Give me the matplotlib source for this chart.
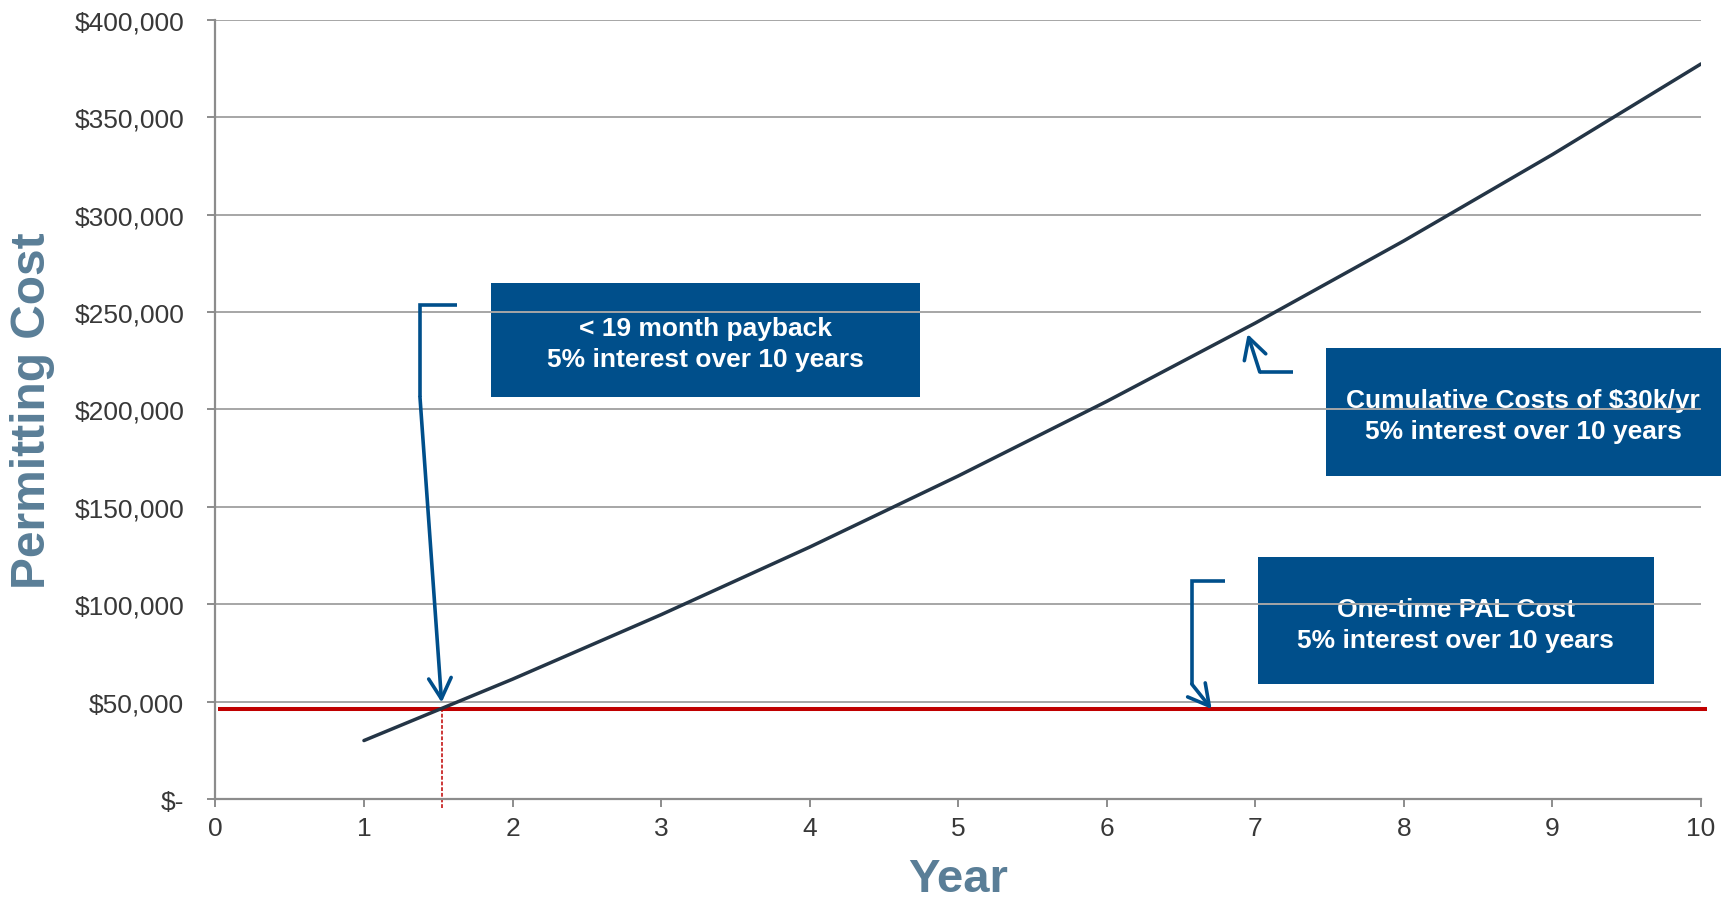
import matplotlib.pyplot as plt
from matplotlib.patches import Rectangle
from matplotlib.ticker import FuncFormatter

plt.rcParams['font.family'] = ['Liberation Sans', 'DejaVu Sans']

# cumulative cost of $30k/yr at 5% interest, one-time PAL cost
years = [1, 2, 3, 4, 5, 6, 7, 8, 9, 10]
cumulative_cost = [30000, 61500, 94600, 129300, 165800, 204100, 244300, 286500, 330800, 377300]
pal_cost = 46000
payback_year = 1.523

x_ticks = [0, 1, 2, 3, 4, 5, 6, 7, 8, 9, 10]
y_ticks = [0, 50000, 100000, 150000, 200000, 250000, 300000, 350000, 400000]

box_texts = [
    "< 19 month payback\n5% interest over 10 years",
    "Cumulative Costs of $30k/yr\n5% interest over 10 years",
    "One-time PAL Cost\n5% interest over 10 years",
]

BLUE = '#004F8B'
RED = '#C00000'
LINE = '#243546'
LABEL = '#5A7E97'
GRID = '#A6A6A6'
SPINE = '#8C8C8C'
TEXT = '#383838'

fig = plt.figure(figsize=(17.32, 9.03), dpi=100)
ax = fig.add_axes([0.12436, 0.11406, 0.85774, 0.86301])

ax.set_xlim(0, 10)
ax.set_ylim(0, 400000)
ax.set_xticks(x_ticks)
ax.set_yticks(y_ticks)
ax.yaxis.set_major_formatter(FuncFormatter(lambda v, p: '$-' if v == 0 else f'${v:,.0f}'))

ax.grid(axis='y', color=GRID, linewidth=1.4)
ax.grid(axis='x', visible=False)
for side in ('top', 'right'):
    ax.spines[side].set_visible(False)
for side in ('left', 'bottom'):
    ax.spines[side].set_color(SPINE)
    ax.spines[side].set_linewidth(1.6)

ax.tick_params(direction='out', length=5.5, width=1.4, color=SPINE,
               labelsize=19, labelcolor=TEXT)
ax.tick_params(axis='y', pad=17)
ax.tick_params(axis='x', pad=7)

ax.set_xlabel('Year', fontsize=34, fontweight='bold', color=LABEL, va='center')
ax.xaxis.set_label_coords(0.5, -0.1027)
ax.set_ylabel('Permitting Cost', fontsize=34.5, fontweight='bold', color=LABEL, va='center')
ax.yaxis.set_label_coords(-0.1228, 0.5)

# text boxes sit under the gridlines
boxes = [
    (1.853, 206350, 4.742, 264860),
    (7.474, 165800, 10.132, 231500),
    (7.016, 59030, 9.681, 124200),
]
for (x0, y0, x1, y1), txt in zip(boxes, box_texts):
    ax.add_patch(Rectangle((x0, y0), x1 - x0, y1 - y0, facecolor=BLUE,
                           edgecolor='none', zorder=0.8, clip_on=False))
    ax.text((x0 + x1) / 2, (y0 + y1) / 2 - 2000, txt, ha='center', va='center',
            color='white', fontsize=19, fontweight='bold', linespacing=1.38,
            zorder=0.9, clip_on=False)

# cost lines
ax.hlines(pal_cost, 0.02, 10.04, color=RED, linewidth=2.9, zorder=2, clip_on=False)
ax.plot(years, cumulative_cost, color=LINE, linewidth=2.5, zorder=3,
        solid_capstyle='round')
ax.vlines(payback_year, -4600, pal_cost, color=RED, linewidth=1.1,
          linestyles=(0, (2.5, 1.2)), zorder=2.5, clip_on=False)

# elbow arrows pointing at the lines
arrows = [
    ([1.625, 1.377, 1.377], [253570, 253570, 206350], (1.523, 49500)),
    ([7.252, 7.030], [219180, 219180], (6.948, 238680)),
    ([6.795, 6.572, 6.572], [111900, 111900, 59030], (6.706, 46200)),
]
for xs, ys, tip in arrows:
    ax.plot(xs, ys, color=BLUE, linewidth=2.6, zorder=4,
            solid_joinstyle='miter', solid_capstyle='butt')
    ax.annotate('', xy=tip, xytext=(xs[-1], ys[-1]),
                arrowprops=dict(arrowstyle='->,head_length=0.55,head_width=0.3',
                                color=BLUE, lw=2.6, shrinkA=0, shrinkB=0,
                                mutation_scale=27),
                zorder=4)

fig.savefig('out.png', dpi=100)
